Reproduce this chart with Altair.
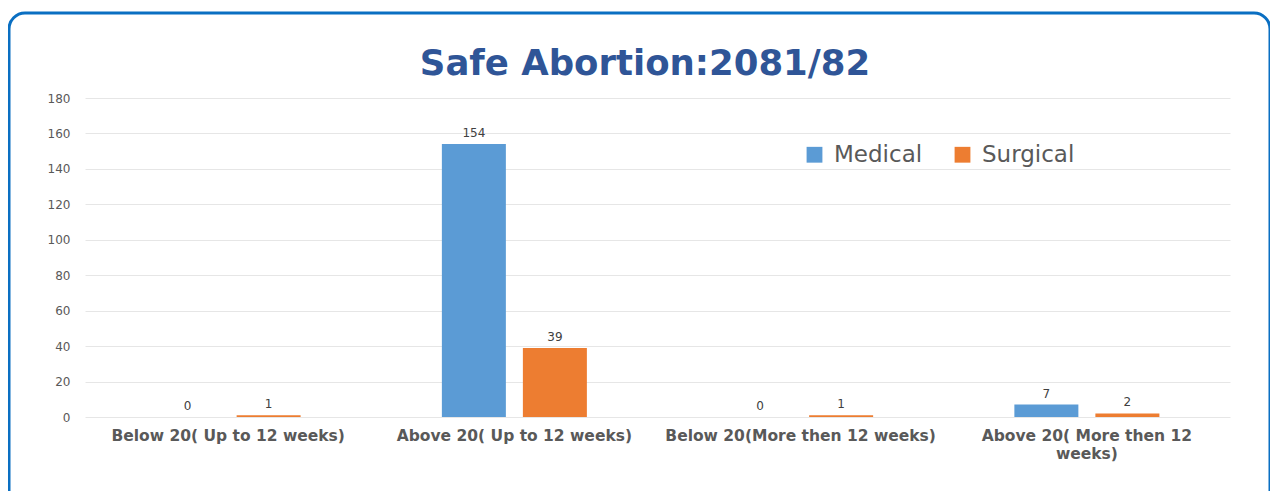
import altair as alt
import pandas as pd

categories = [
    "Below 20( Up to 12 weeks)",
    "Above 20( Up to 12 weeks)",
    "Below 20(More then 12 weeks)",
    "Above 20( More then 12 weeks)",
]
medical = [0, 154, 0, 7]
surgical = [1, 39, 1, 2]
series = ["Medical", "Surgical"]
colors = ["#5B9BD5", "#ED7D31"]
y_ticks = [0, 20, 40, 60, 80, 100, 120, 140, 160, 180]
title_text = "Safe Abortion:2081/82"

rows = []
for c, m, s in zip(categories, medical, surgical):
    rows.append({"category": c, "type": "Medical", "value": m})
    rows.append({"category": c, "type": "Surgical", "value": s})
df = pd.DataFrame(rows)

FONT = "DejaVu Sans"
W, H = 1145, 319

x_enc = alt.X(
    "category:N",
    sort=categories,
    title=None,
    scale=alt.Scale(paddingInner=0.4934, paddingOuter=0.2467),
    axis=alt.Axis(
        labelAngle=0,
        labelFont=FONT,
        labelFontWeight="bold",
        labelFontSize=15.5,
        labelColor="#595959",
        ticks=False,
        domain=False,
        grid=False,
        labelPadding=11,
        labelLimit=400,
        labelLineHeight=18,
        labelBaseline="top",
        labelExpr="datum.label == 'Above 20( More then 12 weeks)' ? ['Above 20( More then 12', 'weeks)'] : datum.label",
    ),
)
y_enc = alt.Y(
    "value:Q",
    title=None,
    scale=alt.Scale(domain=[0, 180], nice=False),
    axis=alt.Axis(
        values=y_ticks,
        labelFont=FONT,
        labelFontSize=12,
        labelColor="#595959",
        labelOverlap=False,
        ticks=False,
        domain=False,
        gridColor="#E6E6E6",
        gridWidth=1,
        labelPadding=15,
    ),
)
xoff = alt.XOffset("type:N", sort=series, scale=alt.Scale(paddingInner=0.21, paddingOuter=0))

base = alt.Chart(df).encode(x=x_enc, xOffset=xoff, y=y_enc)

bars = base.mark_bar().encode(
    color=alt.Color(
        "type:N",
        sort=series,
        scale=alt.Scale(domain=series, range=colors),
        legend=alt.Legend(
            title=None,
            orient="none",
            legendX=718,
            legendY=45,
            direction="horizontal",
            symbolType="square",
            symbolSize=250,
            symbolStrokeWidth=0,
            labelFont=FONT,
            labelFontSize=23,
            labelColor="#595959",
            columnPadding=28,
            labelOffset=8,
        ),
    ),
)

labels = base.mark_text(
    baseline="bottom", dy=-4, font=FONT, fontSize=12, color="#404040"
).encode(text=alt.Text("value:Q"))

frame = alt.Chart(alt.Data(values=[{"a": 1}])).mark_rect(
    filled=False, stroke="#0A6FC2", strokeWidth=3, cornerRadius=16
).encode(
    x=alt.value(-76),
    x2=alt.value(1185),
    y=alt.value(-85),
    y2=alt.value(410),
)

title = alt.Chart(alt.Data(values=[{"t": title_text}])).mark_text(
    font=FONT, fontSize=35.5, fontWeight="bold", color="#2F5597",
    align="center", baseline="alphabetic"
).encode(
    text="t:N",
    x=alt.value(560),
    y=alt.value(-23),
)

chart = (
    alt.layer(frame, bars, labels, title)
    .properties(
        width=W,
        height=H,
        padding={"left": 77, "top": 90, "right": 40, "bottom": 74},
        autosize=alt.AutoSizeParams(type="none"),
    )
    .configure(background="white")
    .configure_view(stroke="transparent", strokeWidth=0)
)

chart.save("out.html", embed_options={"renderer": "svg", "actions": False})
